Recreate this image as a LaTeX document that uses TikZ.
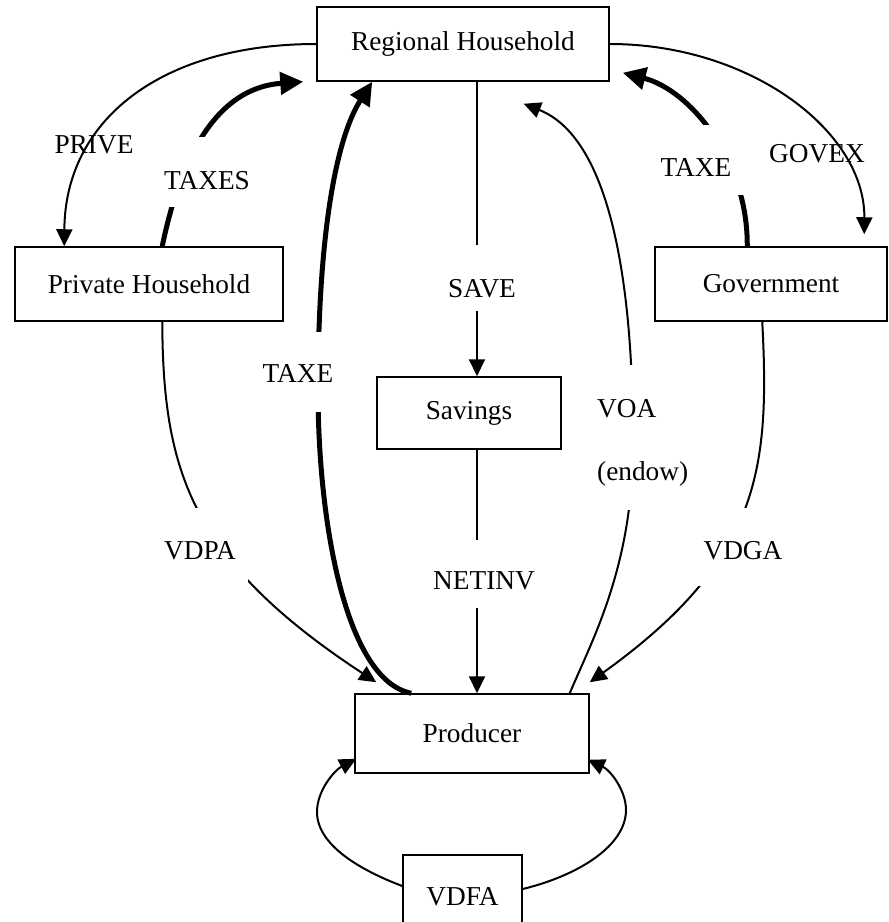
\documentclass[tikz,border=0pt]{standalone}
\usepackage{fontspec}
\setmainfont{Liberation Serif}
\usetikzlibrary{arrows.meta}
\newcommand\flowfont{\fontsize{27.3pt}{32pt}\selectfont}
\begin{document}
\begin{tikzpicture}[x=1pt,y=-1pt,
  agent/.style={draw, line width=1.5pt, inner sep=0pt, font=\flowfont},
  flow/.style={line width=2pt, -{Triangle[length=17pt,width=16pt]}},
  taxflow/.style={line width=5pt, -{Triangle[length=23pt,width=22pt]}},
  lbl/.style={font=\flowfont, inner sep=0pt, anchor=base},
  gaplbl/.style 2 args={lbl, fill=white, inner xsep=12pt, text height=#1, text depth=#2},
]
\useasboundingbox (0,0) rectangle (889,922);

% agents of the economy
\node[agent, minimum width=292pt, minimum height=74pt] (rh)   at (463,44)    {Regional Household};
\node[agent, minimum width=268pt, minimum height=74pt] (ph)   at (149,284)   {Private Household};
\node[agent, minimum width=232pt, minimum height=74pt] (gov)  at (771,284)   {Government};
\node[agent, minimum width=184pt, minimum height=72pt] (sav)  at (469,413)   {Savings};
\node[agent, minimum width=234pt, minimum height=79pt] (prod) at (472,733.5) {Producer};
\node[agent, minimum width=119pt, minimum height=84pt] (vdfa) at (462.5,897) {VDFA};

% private expenditure
\draw[flow] (rh.west) .. controls (161,44) and (65,120) .. ([xshift=50pt]ph.north west);
% government expenditure
\draw[flow] (rh.east) .. controls (750,44) and (865,131) .. ([xshift=210pt,yshift=12pt]gov.north west);

% tax flows
\draw[taxflow] ([xshift=148pt]ph.north west) .. controls (180,160) and (215,88) .. ([xshift=-13pt]rh.south west);
\draw[taxflow] ([xshift=57pt]prod.north west) .. controls (345,680) and (318,520) .. (318,390)
               .. controls (318,240) and (335,140) .. ([xshift=56pt]rh.south west);
\draw[taxflow] ([xshift=93pt]gov.north west) .. controls (748,160) and (690,90) .. ([xshift=13pt,yshift=9pt]rh.south east);

% saving and investment
\draw[flow] ([xshift=14pt]rh.south) -- ([xshift=8pt]sav.north);
\draw[flow] ([xshift=8pt]sav.south) -- ([xshift=5pt]prod.north);

% factor endowments
\draw[flow] ([xshift=-20pt]prod.north east) .. controls (592,640) and (634,565) .. (633,440)
            .. controls (633,300) and (615,140) .. ([xshift=-86pt,yshift=-22pt]rh.south east);

% domestic demand
\draw[flow] ([xshift=148pt]ph.south west) .. controls (163,470) and (190,560) .. ([xshift=22pt,yshift=11pt]prod.north west);
\draw[flow] ([xshift=108pt]gov.south west) .. controls (770,470) and (760,560) .. ([yshift=11pt]prod.north east);

% intermediate demand loops
\draw[flow] ([yshift=11pt]vdfa.west) .. controls (360,870) and (317,845) .. (317,812)
            .. controls (317,790) and (335,770) .. ([xshift=2pt,yshift=15pt]prod.south west);
\draw[flow] ([yshift=8pt]vdfa.east) .. controls (580,875) and (626,845) .. (626,810)
            .. controls (626,790) and (610,770) .. ([xshift=-2pt,yshift=14pt]prod.south east);

% flow labels
\node[lbl] (privelbl) at (94,153) {PRIVE};
\node[lbl] (govexlbl) at (817,162) {GOVEX};
\node[gaplbl={52pt}{18pt}] (taxeslbl) at (207,189) {TAXES};
\node[gaplbl={50pt}{30pt}] (taxelbl) at (298,382) {TAXE};
\node[gaplbl={51pt}{19pt}, inner xsep=18pt] (taxeglbl) at (696,176) {TAXE};
\node[gaplbl={52pt}{14pt}] (savelbl) at (482,297) {SAVE};
\node[gaplbl={49pt}{19pt}] (netinvlbl) at (484,589) {NETINV};
\node[gaplbl={51pt}{28pt}] (vdpalbl) at (200,559) {VDPA};
\node[gaplbl={51pt}{27pt}] (vdgalbl) at (743,559) {VDGA};
\node[lbl, anchor=base west, fill=white, text height=52pt, text depth=32pt] (voalbl) at (597,417) {VOA};
\node[lbl, anchor=base west, fill=white, text height=31pt, text depth=30pt] (endowlbl) at (597,480) {(endow)};
\end{tikzpicture}
\end{document}
